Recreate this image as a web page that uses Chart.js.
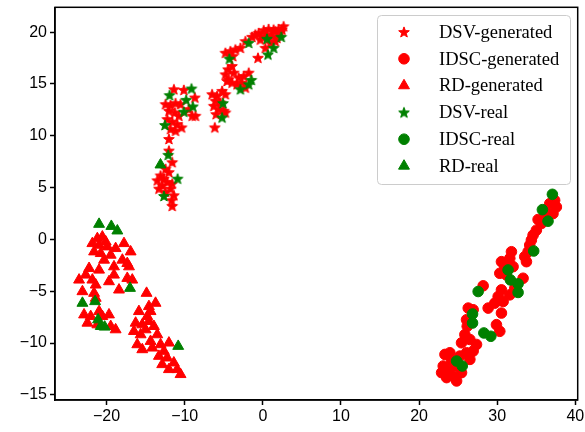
<!DOCTYPE html>
<html>
<head>
<meta charset="utf-8">
<script src="https://cdn.jsdelivr.net/npm/chart.js@4.4.1/dist/chart.umd.min.js"></script>
<style>
  html, body { margin: 0; padding: 0; background: #fff; }
</style>
</head>
<body>
<canvas id="tsne" width="585" height="432"></canvas>
<script>
// t-SNE scatter, generated vs real samples
const seriesNames = ["DSV-generated", "IDSC-generated", "RD-generated", "DSV-real", "IDSC-real", "RD-real"];
const xTicks = [-20, -10, 0, 10, 20, 30, 40];
const yTicks = [-15, -10, -5, 0, 5, 10, 15, 20];

const dsvGenerated = [
  [2.66, 20.57], [2.02, 20.31], [1.38, 20.25], [0.74, 20.31], [0.11, 20.19], [-0.53, 19.93],
  [-0.96, 19.77], [-0.19, 19.61], [0.53, 19.77], [1.17, 19.61], [1.81, 19.45], [2.23, 19.99],
  [1.6, 19.13], [0.96, 18.97], [0.32, 18.49], [-0.32, 19.29], [-1.38, 19.55], [-2.23, 19.13],
  [-2.87, 18.49], [-3.51, 18.33], [-4.15, 18.17], [-4.79, 18.01], [-3.85, 17.69], [-0.62, 17.53],
  [1.6, 20.09], [2.45, 20.25],
  [-3.94, 16.73], [-4.45, 16.41], [-4.79, 15.93], [-4.36, 15.45], [-3.72, 16.09], [-3.09, 15.61],
  [-2.45, 15.77], [-1.81, 16.09], [-2.66, 15.13], [-3.3, 14.97], [-3.94, 15.13], [-2.23, 14.65],
  [-4.57, 15.29],
  [-6.49, 14.01], [-5.85, 13.85], [-5.21, 14.33], [-4.79, 14.01], [-6.06, 13.37], [-5.43, 13.21],
  [-6.28, 12.89], [-5.64, 12.57], [-5.0, 12.41], [-5.98, 12.09], [-4.79, 12.25], [-6.15, 10.81],
  [-11.38, 14.49], [-10.11, 14.43], [-8.7, 13.69], [-12.45, 13.05], [-11.81, 12.96], [-11.17, 13.15],
  [-10.53, 13.05], [-12.02, 12.41], [-11.26, 12.25], [-10.74, 11.93], [-9.04, 11.93], [-8.62, 11.93],
  [-12.23, 11.61], [-11.6, 11.36], [-10.96, 11.13], [-10.4, 10.81], [-11.81, 10.65], [-11.17, 10.49],
  [-12.02, 9.69], [-9.47, 12.57],
  [-12.02, 8.57], [-11.6, 7.45], [-12.45, 6.81], [-12.02, 6.49], [-13.09, 6.17], [-12.66, 5.86],
  [-13.51, 5.7], [-12.23, 5.54], [-12.87, 5.22], [-11.6, 5.38], [-13.3, 4.9], [-11.81, 4.9],
  [-12.45, 4.58], [-11.38, 4.26], [-11.68, 3.78], [-11.6, 3.23]
];
const idscGenerated = [
  [37.35, 3.77], [36.72, 3.45], [37.57, 3.13], [36.29, 2.65], [37.14, 2.49], [36.08, 2.17],
  [35.23, 1.92], [35.65, 1.53], [35.01, 0.89], [34.59, 0.41], [34.37, -0.07], [34.16, -0.55],
  [33.95, -1.19], [33.52, -1.67], [33.74, -2.15], [31.82, -1.19], [31.61, -1.83], [30.54, -2.15],
  [30.97, -2.63], [32.03, -2.63], [30.33, -3.27], [31.18, -3.43], [33.31, -3.75], [32.25, -4.71],
  [31.61, -5.35], [30.54, -4.87], [30.12, -5.51], [30.76, -5.99], [29.69, -6.15], [28.84, -6.63],
  [30.54, -7.11], [29.9, -8.23], [30.33, -8.87], [28.2, -4.48], [26.29, -6.63], [26.92, -6.79],
  [26.07, -7.75], [26.16, -8.39], [25.86, -9.19], [25.43, -9.98], [26.5, -9.66], [27.35, -10.14],
  [26.92, -10.78], [26.07, -10.94], [26.5, -11.58], [25.22, -11.26], [23.31, -11.1], [23.94, -10.94],
  [23.09, -12.22], [23.73, -12.7], [22.88, -12.86], [24.37, -13.18], [24.8, -13.66], [23.52, -13.34],
  [25.43, -12.86], [24.58, -12.22], [24.16, -11.74]
];
const rdGenerated = [
  [-21.18, 0.09], [-20.54, 0.25], [-20.11, -0.23], [-21.82, -0.39], [-20.96, -0.55], [-19.9, -0.71],
  [-21.6, -1.19], [-20.75, -1.35], [-19.47, -1.51], [-20.32, -1.99], [-18.84, -0.87], [-17.77, -0.39],
  [-16.92, -1.19], [-17.98, -1.99], [-17.35, -2.31], [-17.13, -2.63], [-19.05, -2.63], [-22.24, -2.79],
  [-20.96, -2.95], [-22.67, -3.43], [-23.52, -3.91], [-21.82, -3.91], [-19.05, -3.43], [-17.35, -3.75],
  [-16.71, -3.91], [-19.69, -4.07], [-18.41, -4.87], [-21.39, -4.39], [-23.09, -5.03], [-21.6, -5.19],
  [-21.39, -5.67], [-22.88, -7.27], [-22.03, -7.43], [-22.45, -8.07], [-20.96, -6.95], [-20.54, -7.43],
  [-19.69, -7.27], [-21.18, -8.23], [-18.84, -8.71], [-19.47, -8.39],
  [-14.88, -5.19], [-13.73, -6.15], [-14.58, -6.47], [-15.86, -6.95], [-14.79, -7.43], [-14.37, -6.95],
  [-16.28, -8.07], [-15.43, -8.23], [-14.58, -7.91], [-13.94, -8.39], [-16.5, -8.87], [-15.64, -9.19],
  [-15.0, -8.71], [-13.51, -9.19], [-14.37, -9.83], [-16.07, -10.15], [-15.43, -10.63], [-14.15, -10.47],
  [-13.09, -10.15], [-12.02, -9.99], [-12.66, -10.79], [-13.3, -11.27], [-12.24, -11.43], [-12.88, -12.07],
  [-11.39, -11.91], [-12.02, -12.55], [-10.96, -12.55], [-10.53, -13.03]
];
const dsvReal = [
  [2.36, 19.55], [0.53, 19.36], [1.38, 18.49], [0.66, 17.85], [-1.81, 18.97], [-4.28, 17.44],
  [-1.47, 15.39], [-1.81, 14.97], [-2.87, 14.49], [-9.13, 14.56], [-11.94, 13.92], [-9.81, 13.47],
  [-8.96, 12.83], [-10.11, 12.32], [-12.53, 11.04], [-5.09, 13.15], [-5.21, 11.77], [-12.11, 8.16],
  [-10.91, 5.86], [-12.66, 4.19]
];
const idscReal = [
  [37.06, 4.35], [35.78, 2.87], [36.5, 1.76], [34.67, -1.12], [31.39, -2.95], [31.69, -3.91],
  [32.67, -4.29], [32.67, -5.12], [27.56, -5.03], [26.84, -7.2], [26.84, -8.07], [28.29, -9.03],
  [29.18, -9.35], [24.8, -11.74], [25.52, -12.22]
];
const rdReal = [
  [-20.96, 1.47], [-19.39, 1.27], [-18.62, 0.83], [-17.0, -4.71], [-23.09, -6.15], [-21.47, -5.99],
  [-21.09, -7.75], [-20.75, -8.39], [-20.24, -8.45], [-10.83, -10.31], [-13.1, 7.2]
];

const RED = "#ff0000";
const GREEN = "#008000";

function starImage(color, r) {
  const size = Math.ceil(r * 2 + 4);
  const c = document.createElement("canvas");
  c.width = size; c.height = size;
  const g = c.getContext("2d");
  g.translate(size / 2, size / 2 + 0.5);
  g.beginPath();
  for (let i = 0; i < 10; i++) {
    const rad = i % 2 === 0 ? r : r * 0.42;
    const a = -Math.PI / 2 + i * Math.PI / 5;
    g.lineTo(rad * Math.cos(a), rad * Math.sin(a));
  }
  g.closePath();
  g.fillStyle = color;
  g.fill();
  g.lineWidth = 1;
  g.strokeStyle = color;
  g.stroke();
  return c;
}

const toPts = (arr) => arr.map(p => ({ x: p[0], y: p[1] }));

const redStar = starImage(RED, 5.6);
const greenStar = starImage(GREEN, 5.6);

const datasets = [
  { label: seriesNames[0], data: toPts(dsvGenerated), pointStyle: redStar, color: RED, order: 1 },
  { label: seriesNames[1], data: toPts(idscGenerated), pointStyle: "circle", radius: 5.3, color: RED, order: 1 },
  { label: seriesNames[2], data: toPts(rdGenerated), pointStyle: "triangle", radius: 6.3, color: RED, order: 1 },
  { label: seriesNames[3], data: toPts(dsvReal), pointStyle: greenStar, color: GREEN, order: 0 },
  { label: seriesNames[4], data: toPts(idscReal), pointStyle: "circle", radius: 5.3, color: GREEN, order: 0 },
  { label: seriesNames[5], data: toPts(rdReal), pointStyle: "triangle", radius: 6.3, color: GREEN, order: 0 }
].map(d => ({
  label: d.label,
  data: d.data,
  order: d.order,
  pointStyle: d.pointStyle,
  pointRadius: d.radius || 5,
  pointHoverRadius: d.radius || 5,
  pointBackgroundColor: d.color,
  pointBorderColor: d.color,
  pointBorderWidth: 1,
  showLine: false
}));

const minus = (v) => String(v).replace("-", "\u2212");

// matplotlib style frame + legend box
const framePlugin = {
  id: "frame",
  afterDraw(chart) {
    const { ctx, chartArea: a } = chart;
    ctx.save();
    ctx.strokeStyle = "#000";
    ctx.lineWidth = 1.5;
    ctx.strokeRect(a.left, a.top, a.right - a.left, a.bottom - a.top);

    // legend
    const bx = 377.5, by = 15.5, bw = 193, bh = 169, r = 4;
    ctx.beginPath();
    ctx.moveTo(bx + r, by);
    ctx.arcTo(bx + bw, by, bx + bw, by + bh, r);
    ctx.arcTo(bx + bw, by + bh, bx, by + bh, r);
    ctx.arcTo(bx, by + bh, bx, by, r);
    ctx.arcTo(bx, by, bx + bw, by, r);
    ctx.closePath();
    ctx.fillStyle = "rgba(255,255,255,0.8)";
    ctx.fill();
    ctx.strokeStyle = "#cccccc";
    ctx.lineWidth = 1;
    ctx.stroke();

    ctx.font = "18.5px 'Liberation Serif', 'Times New Roman', serif";
    ctx.textBaseline = "middle";
    chart.data.datasets.forEach((ds, i) => {
      const y = 32 + i * 26.8;
      ctx.fillStyle = ds.pointBackgroundColor;
      ctx.strokeStyle = ds.pointBorderColor;
      ctx.lineWidth = 1;
      Chart.helpers.drawPoint(ctx, {
        pointStyle: ds.pointStyle,
        radius: ds.pointRadius,
        rotation: 0,
        borderWidth: 1
      }, 404, y);
      ctx.fillStyle = "#000";
      ctx.fillText(ds.label, 439, y + 1);
    });
    ctx.restore();
  }
};

const tickFont = { family: "'Liberation Sans', Arial, sans-serif", size: 16 };

new Chart(document.getElementById("tsne").getContext("2d"), {
  type: "scatter",
  data: { datasets },
  options: {
    responsive: false,
    animation: false,
    layout: { padding: { top: 6, right: 7, left: 0, bottom: 0 } },
    plugins: { legend: { display: false }, tooltip: { enabled: false } },
    scales: {
      x: {
        type: "linear",
        min: -26.6,
        max: 40.3,
        afterBuildTicks: (s) => { s.ticks = xTicks.map(v => ({ value: v })); },
        afterFit: (s) => { s.height = 32; s.paddingLeft = 0; s.paddingRight = 0; },
        ticks: { font: tickFont, color: "#000", padding: 2, maxRotation: 0, callback: minus },
        grid: { drawOnChartArea: false, drawTicks: true, tickLength: 5, tickWidth: 1.5, tickColor: "#000" },
        border: { display: true, color: "#000", width: 1.5 }
      },
      y: {
        type: "linear",
        min: -15.5,
        max: 22.4,
        afterBuildTicks: (s) => { s.ticks = yTicks.map(v => ({ value: v })); },
        afterFit: (s) => { s.width = 55; s.paddingTop = 0; s.paddingBottom = 0; },
        ticks: { font: tickFont, color: "#000", padding: 3, callback: minus },
        grid: { drawOnChartArea: false, drawTicks: true, tickLength: 5, tickWidth: 1.5, tickColor: "#000" },
        border: { display: true, color: "#000", width: 1.5 }
      }
    }
  },
  plugins: [framePlugin]
});
</script>
</body>
</html>
